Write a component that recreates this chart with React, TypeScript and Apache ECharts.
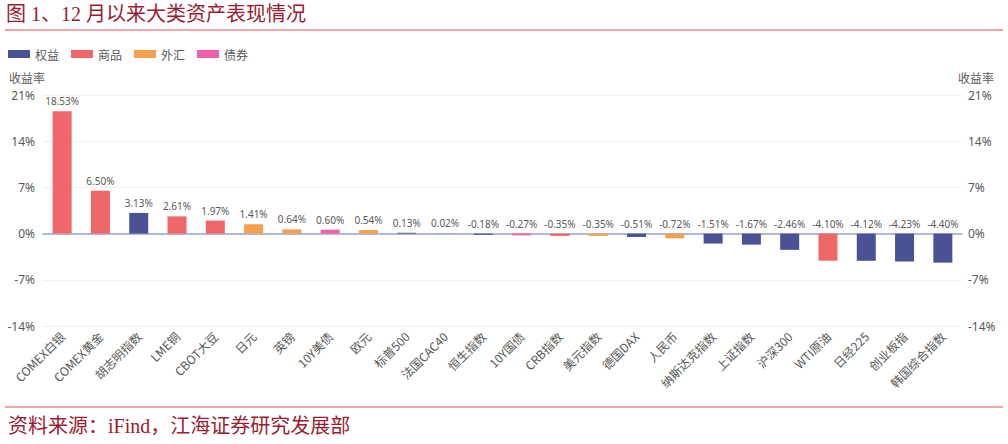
import React, { useEffect, useRef } from "react";
import * as echarts from "echarts";

const categories = [
  "COMEX白银", "COMEX黄金", "胡志明指数", "LME铜", "CBOT大豆", "日元", "英镑", "10Y美债",
  "欧元", "标普500", "法国CAC40", "恒生指数", "10Y国债", "CRB指数", "美元指数", "德国DAX",
  "人民币", "纳斯达克指数", "上证指数", "沪深300", "WTI原油", "日经225", "创业板指", "韩国综合指数",
];
const values = [
  18.53, 6.5, 3.13, 2.61, 1.97, 1.41, 0.64, 0.6,
  0.54, 0.13, 0.02, -0.18, -0.27, -0.35, -0.35, -0.51,
  -0.72, -1.51, -1.67, -2.46, -4.1, -4.12, -4.23, -4.4,
];
const groups = [
  "商品", "商品", "权益", "商品", "商品", "外汇", "外汇", "债券",
  "外汇", "权益", "权益", "权益", "债券", "商品", "外汇", "权益",
  "外汇", "权益", "权益", "权益", "商品", "权益", "权益", "权益",
];
const seriesNames = ["权益", "商品", "外汇", "债券"];
const seriesColors = ["#4a5296", "#f0676a", "#f5a04d", "#f062a8"];
const yTicks = { min: -14, max: 21, interval: 7 };

const gray = "#595959";
const serif = "Liberation Serif, Noto Sans CJK SC";

export default function App() {
  const ref = useRef<HTMLDivElement>(null);
  useEffect(() => {
    if (!ref.current) return;
    const chart = echarts.init(ref.current, undefined, { renderer: "svg" });
    const series = seriesNames.map((name, si) => ({
      name,
      type: "bar",
      stack: "all",
      barWidth: 19,
      itemStyle: { color: seriesColors[si] },
      label: {
        show: true,
        position: "top",
        distance: 5,
        color: gray,
        fontSize: 10,
        fontFamily: "Noto Sans",
        formatter: (p: any) => Number(p.value).toFixed(2) + "%",
      },
      data: values.map((v, i) => (groups[i] === name ? v : "-")),
    }));
    const yAxisBase = {
      type: "value",
      min: yTicks.min,
      max: yTicks.max,
      interval: yTicks.interval,
      name: "收益率",
      nameGap: 12,
      nameTextStyle: { color: gray, fontSize: 12, fontFamily: "Noto Sans CJK SC" },
      axisLabel: {
        color: gray,
        fontSize: 12,
        fontFamily: "Noto Sans",
        formatter: (v: number) => v + "%",
      },
      axisLine: { show: false },
      axisTick: { show: false },
    };
    chart.setOption({
      animation: false,
      grid: { left: 43, right: 46, top: 95, bottom: 118 },
      legend: {
        left: 3,
        top: 43,
        itemWidth: 22,
        itemHeight: 8,
        itemGap: 12,
        icon: "rect",
        textStyle: { color: gray, fontSize: 12, fontFamily: "Noto Sans CJK SC" },
        data: seriesNames,
      },
      xAxis: {
        type: "category",
        data: categories,
        axisLine: { lineStyle: { color: "#9ea3c8", width: 1.5 } },
        axisTick: { show: false },
        axisLabel: {
          interval: 0,
          rotate: 45,
          color: gray,
          fontSize: 12,
          fontFamily: "Noto Sans CJK SC",
          margin: 8,
          hideOverlap: false,
        },
      },
      yAxis: [
        {
          ...yAxisBase,
          position: "left",
          nameTextStyle: { ...yAxisBase.nameTextStyle, align: "left", padding: [0, 0, 0, -34] },
          axisLabel: { ...yAxisBase.axisLabel, margin: 8 },
          splitLine: { lineStyle: { color: "#eef0f6" } },
        },
        {
          ...yAxisBase,
          position: "right",
          nameTextStyle: { ...yAxisBase.nameTextStyle, align: "left", padding: [0, 0, 0, -4] },
          axisLabel: { ...yAxisBase.axisLabel, margin: 6 },
          splitLine: { show: false },
        },
      ],
      series,
      graphic: [
        {
          type: "text",
          left: 6,
          top: 4,
          style: {
            text: "图 1、12 月以来大类资产表现情况",
            fill: "#9b1b30",
            fontSize: 20,
            fontFamily: serif,
          },
        },
        {
          type: "line",
          shape: { x1: 5, y1: 30, x2: 1003, y2: 30 },
          style: { stroke: "#d9534f", lineWidth: 1 },
        },
        {
          type: "line",
          shape: { x1: 5, y1: 407, x2: 1003, y2: 407 },
          style: { stroke: "#d9534f", lineWidth: 1 },
        },
        {
          type: "text",
          left: 8,
          top: 416,
          style: {
            text: "资料来源：iFind，江海证券研究发展部",
            fill: "#9b1b30",
            fontSize: 20,
            fontFamily: serif,
          },
        },
      ],
    });
    return () => chart.dispose();
  }, []);
  return (
    <div
      ref={ref}
      style={{ position: "fixed", left: 0, top: 0, width: 1008, height: 444, background: "#fff" }}
    />
  );
}
